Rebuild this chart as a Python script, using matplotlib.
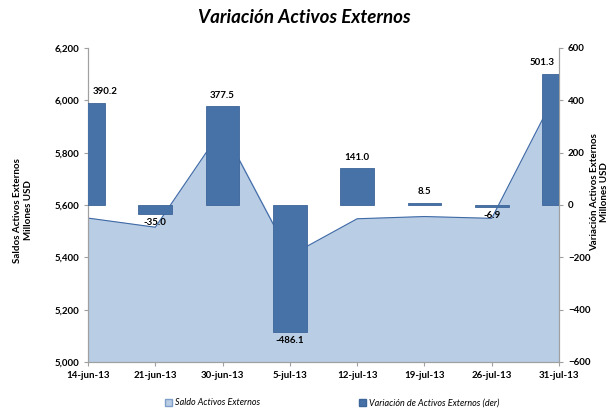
import matplotlib.pyplot as plt
import numpy as np
from matplotlib.patches import Patch

fechas = ['14-jun-13', '21-jun-13', '30-jun-13', '5-jul-13', '12-jul-13', '19-jul-13', '26-jul-13', '31-jul-13']
saldo = [5550.0, 5515.0, 5892.5, 5406.4, 5547.4, 5555.9, 5549.0, 6050.3]
variacion = [390.2, -35.0, 377.5, -486.1, 141.0, 8.5, -6.9, 501.3]

plt.rcParams['font.family'] = ['Lato', 'DejaVu Sans']

fig = plt.figure(figsize=(6.09, 4.12), dpi=100)
ax = fig.add_axes([0.1445, 0.1214, 0.7734, 0.7621])
x = np.arange(len(fechas))

ax.fill_between(x, saldo, 5000, color='#b9cde5', zorder=1)
ax.plot(x, saldo, color='#3f6aa6', lw=0.8, zorder=2)
ax.set_xlim(0, len(fechas) - 1)
ax.set_ylim(5000, 6200)
ax.set_yticks(np.arange(5000, 6201, 200))
ax.set_yticklabels([f'{v:,}' for v in range(5000, 6201, 200)])
ax.set_xticks(x)
ax.set_xticklabels(fechas)

ax2 = ax.twinx()
ax2.bar(x, variacion, width=0.5, color='#4672a8', edgecolor='#3d6599', lw=0.6, zorder=3)
ax2.set_ylim(-600, 600)
ax2.set_yticks(np.arange(-600, 601, 200))
ax2.set_xlim(0, len(fechas) - 1)

fig.text(0.038, 0.49, 'Saldos Activos Externos\nMillones USD', rotation=90, ha='center', va='center',
         fontsize=7, fontweight='bold', multialignment='center')
fig.text(0.984, 0.535, 'Variación Activos Externos\nMillones USD', rotation=90, ha='center', va='center',
         fontsize=7, fontweight='bold', multialignment='center')

# etiquetas de datos
offsets = {0: 0.25, 7: -0.25}
for i, v in enumerate(variacion):
    xi = i + offsets.get(i, 0)
    if v >= 0:
        ax2.text(xi, v + 25, f'{v:.1f}', ha='center', va='bottom', fontsize=7, fontweight='bold')
    else:
        ax2.text(xi, v - 15, f'{v:.1f}', ha='center', va='top', fontsize=7, fontweight='bold')

for a in (ax, ax2):
    for s in a.spines.values():
        s.set_color('#a0a0a0')
    a.spines['top'].set_visible(False)
    a.tick_params(labelsize=7, colors='#a0a0a0', labelcolor='black', length=3)
    for lab in a.get_xticklabels() + a.get_yticklabels():
        lab.set_fontweight('bold')

fig.text(0.5, 0.958, 'Variación Activos Externos', ha='center', va='center',
         fontsize=13.5, fontweight='bold', style='italic')

handles = [Patch(facecolor='#b9cde5', edgecolor='#7f9fc9', label='Saldo Activos Externos'),
           Patch(facecolor='#4672a8', edgecolor='#3d6599', label='Variación de Activos Externos (der)')]
fig.legend(handles=handles, loc='center', bbox_to_anchor=(0.545, 0.022), ncol=2, frameon=False,
           prop={'size': 6.5, 'style': 'italic'}, handlelength=0.8, handleheight=0.8,
           handletextpad=0.3, columnspacing=11)

fig.savefig('out.png', dpi=100)
